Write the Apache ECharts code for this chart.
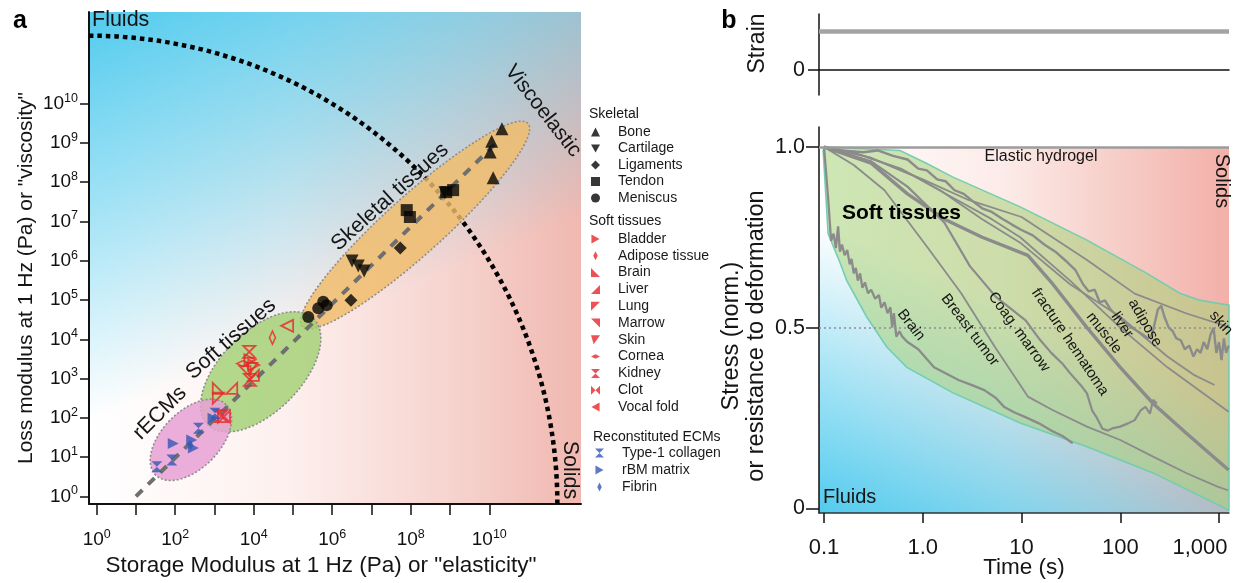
<!DOCTYPE html>
<html><head><meta charset="utf-8">
<script src="https://cdn.jsdelivr.net/npm/echarts@6/dist/echarts.min.js"></script>
<style>html,body{margin:0;padding:0;background:#fff}#c{width:1248px;height:583px}</style>
</head><body><div id="c"></div>
<script>
const FONT = '"Liberation Sans", Arial, Helvetica, sans-serif';
const L10 = Math.log10;

// ================= Panel a data (storage modulus G', loss modulus G'' in Pa) =================
const aTickValues = [1, 1e1, 1e2, 1e3, 1e4, 1e5, 1e6, 1e7, 1e8, 1e9, 1e10];
const aXLabelValues = [1, 1e2, 1e4, 1e6, 1e8, 1e10];
const aYLabelValues = [1, 1e1, 1e2, 1e3, 1e4, 1e5, 1e6, 1e7, 1e8, 1e9, 1e10];
const aAxisMin = 0.637, aAxisMax = 2.17e12;

// skeletal
const bone      = [[2.1e10, 2.3e9], [1.15e10, 1.1e9], [1.05e10, 5.9e8], [1.26e10, 1.3e8]];
const cartilage = [[3.2e6, 9.8e5], [4.6e6, 7.4e5], [6.5e6, 5.5e5], [7.4e8, 5.4e7]];
const ligaments = [[5.4e7, 2.1e6], [3.0e6, 9.8e4]];
const tendon    = [[7.9e7, 1.95e7], [9.5e7, 1.3e7], [1.2e9, 6.3e7], [8.0e8, 5.6e7]];
const meniscus  = [[2.45e5, 3.7e4], [5.9e5, 9.1e4], [7.2e5, 7.4e4], [4.4e5, 6.2e4]];
// soft tissues
const bladder   = [[8.0e3, 3.0e3], [1.0e4, 2.2e3]];
const adipose   = [[3.0e4, 1.1e4]];
const brain     = [[1.25e3, 560]];
const liver     = [[2.75e3, 560], [9.8e3, 1.2e3]];
const lung      = [[1.25e3, 315]];
const marrow    = [[6.0e3, 1.5e3]];
const skin      = [[8.9e3, 1.8e3]];
const cornea    = [[5.4e3, 2.4e3]];
const kidney    = [[7.7e3, 4.8e3], [8.0e3, 920], [1.5e3, 110]];
const clot      = [[1.75e3, 107]];
const vocalFold = [[7.1e4, 2.2e4]];
// reconstituted ECMs
const collagen1 = [[34, 5.7], [82, 8.4], [390, 54], [1030, 130]];
const rbmMatrix = [[89, 22], [263, 27], [290, 17], [920, 98]];
const fibrin    = [[250, 20]];

// trend line G'' = G'/10
const trendLine = [[10, 1], [1.5e10, 1.0e9]];
// fluid/solid boundary radius (decades, around the axis origin)
const boundaryRadiusDecades = 11.93;
// tissue clusters: centre (G', G''), semi-axes in decades, tilt in degrees
const clusterNames   = ['Skeletal tissues', 'Soft tissues', 'rECMs'];
const clusterCenter  = [[1.29e8, 8.1e6], [1.51e4, 1.48e3], [251, 27.5]];
const clusterSemiA   = [3.87, 1.91, 1.27];
const clusterSemiB   = [0.74, 1.02, 0.73];
const clusterTilt    = [42, 45, 45];
const clusterColors  = ['rgba(240,188,105,0.82)', 'rgba(160,208,112,0.8)', 'rgba(232,160,212,0.85)'];

// ================= Panel b data =================
const bTickValues = [0.1, 1, 10, 100, 1000];
const bTickLabels = ['0.1', '1.0', '10', '100', '1,000'];
const bTimeMin = 0.089, bTimeMax = 1262;
const stressTicks = [0, 0.5, 1.0];
const hydrogelStress = 1.0;
const halfStress = 0.5;
const strainTicks = [0];
const strainStep = 1;

const bandUpper = [[0.1,1.0],[0.59,0.99],[1.1,0.954],[2.0,0.917],[9.7,0.834],[46,0.742],[186,0.65],[400,0.595],[630,0.576],[1262,0.562]];
const bandLower = [[0.098,0.99],[0.11,0.76],[0.145,0.68],[0.17,0.63],[0.27,0.53],[0.43,0.447],[0.69,0.39],[2.0,0.32],[9.7,0.236],[46,0.17],[215,0.098],[1262,-0.005]];

const relaxBrain = [[0.1,1.0],[0.11,0.86],[0.118,0.74],[0.125,0.76],[0.132,0.72],[0.139,0.78],[0.145,0.71],[0.152,0.73],[0.162,0.70],[0.172,0.715],[0.182,0.675],[0.19,0.69],[0.2,0.65],[0.21,0.665],[0.22,0.63],[0.232,0.65],[0.245,0.61],[0.26,0.625],[0.279,0.595],[0.3,0.605],[0.33,0.58],[0.36,0.59],[0.38,0.555],[0.41,0.57],[0.44,0.54],[0.47,0.556],[0.49,0.50],[0.51,0.54],[0.54,0.475],[0.58,0.49],[0.62,0.475],[0.7,0.46],[0.9,0.44],[1.3,0.39],[1.8,0.37],[2.3,0.355],[3.2,0.34],[4.2,0.327],[5.5,0.305],[6.7,0.28],[8.5,0.265],[10.8,0.253],[15,0.235],[20,0.215],[26,0.2],[33,0.18]];
const relaxBreastTumor = [[0.1,1.0],[0.2,0.95],[0.41,0.88],[1.13,0.72],[2.45,0.595],[5.36,0.447],[11.6,0.309],[20.6,0.272],[46,0.226],[100,0.189],[215,0.143],[470,0.097],[965,0.06],[1230,0.05]];
const relaxCoagMarrow = [[0.1,1.0],[0.3,0.96],[0.7,0.89],[1.66,0.79],[3,0.67],[5.5,0.585],[11,0.52],[15,0.47],[20,0.43],[26,0.40],[31,0.374],[40,0.34],[46,0.318],[52,0.27],[58,0.25],[66,0.22],[75,0.215],[85,0.222],[100,0.226],[120,0.235],[140,0.244],[160,0.27],[180,0.281],[200,0.262],[215,0.30],[235,0.29]];
const relaxFracture = [[0.1,1.0],[0.3,0.955],[0.7,0.87],[1.66,0.80],[4,0.75],[11.6,0.70],[20.8,0.62],[46,0.50],[100,0.39],[215,0.29],[470,0.207],[1250,0.106]];
const relaxMuscle = [[0.1,1.0],[0.3,0.97],[0.8,0.92],[2,0.86],[5,0.80],[9.7,0.75],[31,0.63],[100,0.50],[300,0.39],[1250,0.267]];
const relaxLiver = [[0.1,1.0],[0.25,0.975],[0.6,0.94],[1.5,0.88],[4,0.80],[9.7,0.735],[31,0.62],[100,0.53],[300,0.42],[550,0.37],[900,0.341]];
const relaxAdipose = [[0.1,1.0],[0.15,0.99],[0.25,0.985],[0.35,0.99],[0.5,0.975],[0.7,0.965],[0.9,0.94],[1.1,0.935],[1.4,0.91],[1.7,0.905],[2.1,0.88],[2.6,0.87],[3.2,0.85],[4,0.83],[5,0.82],[6.5,0.80],[8,0.785],[10,0.77],[13,0.755],[17,0.73],[22,0.71],[28,0.685],[35,0.66],[42,0.62],[48,0.60],[55,0.605],[62,0.57],[70,0.575],[80,0.55],[95,0.53],[110,0.515],[130,0.50],[150,0.49],[170,0.48],[190,0.47],[210,0.48],[240,0.55],[260,0.56],[280,0.53],[310,0.50],[340,0.49],[370,0.47],[410,0.465],[450,0.44],[500,0.45],[550,0.42],[600,0.44],[650,0.43],[700,0.46],[760,0.44],[820,0.48],[880,0.50],[940,0.43],[1000,0.46],[1060,0.41],[1120,0.47],[1180,0.43],[1250,0.45]];
const relaxSkin = [[0.1,1.0],[0.2,0.985],[0.4,0.955],[1,0.91],[2.8,0.855],[10,0.806],[46,0.687],[140,0.594],[470,0.539],[1250,0.502]];

// ================= helpers =================
const lg2 = pts => pts.map(p => [L10(p[0]), L10(p[1])]);
const lgT = pts => pts.map(p => [L10(p[0]), p[1]]);
const RED = '#e8262b', BLUE = '#3658b5', BLACK = '#050505';
const SYM = {
  tri: 'triangle',
  triDown: 'path://M0,0L10,0L5,9Z',
  diamond: 'diamond',
  rect: 'rect',
  circle: 'circle',
  triRight: 'path://M0,0L9,5L0,10Z',
  triLeft: 'path://M9,0L0,5L9,10Z',
  thinDiamond: 'path://M3,0L6,6L3,12L0,6Z',
  cornerBL: 'path://M0,0L0,10L10,10Z',
  cornerBR: 'path://M10,0L10,10L0,10Z',
  cornerTL: 'path://M0,0L10,0L0,10Z',
  cornerTR: 'path://M0,0L10,0L10,10Z',
  skinShape: 'path://M0,0L10,0L3,10Z',
  flatDiamond: 'path://M0,3L6,0L12,3L6,6Z',
  hourglass: 'path://M0,0L10,0L0,10L10,10Z',
  bowtie: 'path://M0,0L10,10L10,0L0,10Z'
};
function scatter(name, data, symbol, color, size, hollow) {
  return {
    type: 'scatter', name, xAxisIndex: 0, yAxisIndex: 0, z: 6,
    data: lg2(data), symbol, symbolSize: size,
    itemStyle: hollow ? {color: 'rgba(0,0,0,0)', borderColor: color, borderWidth: 1.8} : {color},
    emphasis: {disabled: true}
  };
}
function relax(name, data, width) {
  return {
    type: 'line', name, xAxisIndex: 2, yAxisIndex: 2, z: 4,
    data: lgT(data), showSymbol: false, symbol: 'none',
    lineStyle: {color: '#8b8b8b', width: width || 1.8},
    emphasis: {disabled: true}
  };
}
const rich = {
  b: {fontSize: 19, lineHeight: 24, fontFamily: FONT, color: '#111'},
  s: {fontSize: 12.5, lineHeight: 13, verticalAlign: 'top', fontFamily: FONT, color: '#111'}
};
const expLabel = v => '{b|10}{s|' + Math.round(v) + '}';

const skeletalNames = ['Bone', 'Cartilage', 'Ligaments', 'Tendon', 'Meniscus'];
const softNames = ['Bladder', 'Adipose tissue', 'Brain', 'Liver', 'Lung', 'Marrow', 'Skin', 'Cornea', 'Kidney', 'Clot', 'Vocal fold'];
const ecmNames = ['Type-1 collagen', 'rBM matrix', 'Fibrin'];

const markerSeries = [
  scatter('Bone', bone, SYM.tri, BLACK, 13),
  scatter('Cartilage', cartilage, SYM.triDown, BLACK, 13),
  scatter('Ligaments', ligaments, SYM.diamond, BLACK, 13),
  scatter('Tendon', tendon, SYM.rect, BLACK, 12),
  scatter('Meniscus', meniscus, SYM.circle, BLACK, 12),
  scatter('Bladder', bladder, SYM.triRight, RED, 11, true),
  scatter('Adipose tissue', adipose, SYM.thinDiamond, RED, [6, 13], true),
  scatter('Brain', brain, SYM.cornerBL, RED, 11, true),
  scatter('Liver', liver, SYM.cornerBR, RED, 11, true),
  scatter('Lung', lung, SYM.cornerTL, RED, 11, true),
  scatter('Marrow', marrow, SYM.cornerTR, RED, 11, true),
  scatter('Skin', skin, SYM.skinShape, RED, 11, true),
  scatter('Cornea', cornea, SYM.flatDiamond, RED, [13, 6], true),
  scatter('Kidney', kidney, SYM.hourglass, RED, 12, true),
  scatter('Clot', clot, SYM.bowtie, RED, 12, true),
  scatter('Vocal fold', vocalFold, SYM.triLeft, RED, 12, true),
  scatter('Type-1 collagen', collagen1, SYM.hourglass, BLUE, 11),
  scatter('rBM matrix', rbmMatrix, SYM.triRight, BLUE, 11),
  scatter('Fibrin', fibrin, SYM.thinDiamond, BLUE, [5, 10])
];

function legendCfg(names, left, top, gap, color) {
  return {
    data: names.map(n => color ? {name: n, itemStyle: {color: color, borderColor: color, borderWidth: 0}} : {name: n}),
    orient: 'vertical', left, top, padding: 0, itemGap: gap,
    itemWidth: 9, itemHeight: 9, selectedMode: false,
    textStyle: {fontSize: 14, lineHeight: 15, fontFamily: FONT, color: '#1a1a1a', padding: [0, 0, 0, 13]}
  };
}

function txt(text, x, y, o) {
  o = o || {};
  return {
    type: 'text', x, y, z: 100, rotation: (o.rot || 0) * Math.PI / 180, silent: true,
    style: {
      text, fontSize: o.size || 21.5, fontFamily: FONT, fontWeight: o.bold ? 'bold' : 'normal',
      fill: o.color || '#151515', align: o.align || 'center', verticalAlign: 'middle'
    }
  };
}

const aMinExp = L10(aAxisMin), aMaxExp = L10(aAxisMax);
const bMinExp = L10(bTimeMin), bMaxExp = L10(bTimeMax);

const option = {
  animation: false,
  textStyle: {fontFamily: FONT},
  grid: [
    {left: 89, top: 12, width: 492, height: 492, containLabel: false, outerBoundsMode: 'none'},
    {left: 819, top: 14, width: 410, height: 81, containLabel: false, outerBoundsMode: 'none'},
    {left: 819, top: 127, width: 410, height: 386, containLabel: false, outerBoundsMode: 'none'}
  ],
  xAxis: [
    {
      type: 'value', gridIndex: 0, min: aMinExp, max: aMaxExp,
      axisLine: {show: true, onZero: false, lineStyle: {color: '#111', width: 2}},
      axisTick: {show: true, customValues: aTickValues.map(L10), length: 11, lineStyle: {color: '#111', width: 1.5}},
      axisLabel: {customValues: aXLabelValues.map(L10), formatter: expLabel, rich, margin: 24},
      splitLine: {show: false},
      name: 'Storage Modulus at 1 Hz (Pa) or "elasticity"', nameLocation: 'middle', nameGap: 49,
      nameTextStyle: {fontSize: 22.5, color: '#151515', fontFamily: FONT, padding: [0, 28, 0, 0]}
    },
    {
      type: 'value', gridIndex: 1, min: bMinExp, max: bMaxExp,
      axisLine: {show: true, onZero: true, lineStyle: {color: '#111', width: 1.5}},
      axisTick: {show: false}, axisLabel: {show: false}, splitLine: {show: false}
    },
    {
      type: 'value', gridIndex: 2, min: bMinExp, max: bMaxExp,
      axisLine: {show: true, onZero: false, lineStyle: {color: '#333', width: 1.5}},
      axisTick: {show: true, customValues: bTickValues.map(L10), length: 10, lineStyle: {color: '#111', width: 1.5}},
      axisLabel: {
        customValues: bTickValues.map(L10), margin: 24, fontSize: 22, color: '#151515', fontFamily: FONT,
        rich: {last: {fontSize: 22, color: '#151515', fontFamily: FONT, padding: [0, 38, 0, 0]}},
        formatter: v => {
          const i = bTickValues.findIndex(t => Math.abs(L10(t) - v) < 1e-6);
          if (i < 0) return '';
          return i === bTickValues.length - 1 ? '{last|' + bTickLabels[i] + '}' : bTickLabels[i];
        }
      },
      splitLine: {show: false},
      name: 'Time (s)', nameLocation: 'middle', nameGap: 43, nameMoveOverlap: false,
      nameTextStyle: {fontSize: 22.5, color: '#151515', fontFamily: FONT}
    }
  ],
  yAxis: [
    {
      type: 'value', gridIndex: 0, min: aMinExp, max: aMaxExp,
      axisLine: {show: true, onZero: false, lineStyle: {color: '#111', width: 2}},
      axisTick: {show: true, customValues: aTickValues.map(L10), length: 9, lineStyle: {color: '#111', width: 1.5}},
      axisLabel: {customValues: aYLabelValues.map(L10), formatter: expLabel, rich, margin: 11},
      splitLine: {show: false},
      name: 'Loss modulus at 1 Hz (Pa) or "viscosity"', nameLocation: 'middle', nameGap: 52,
      nameTextStyle: {fontSize: 21, color: '#151515', fontFamily: FONT, padding: [0, 40, 0, 0]}
    },
    {
      type: 'value', gridIndex: 1, min: -0.64, max: 1.44,
      axisLine: {show: true, onZero: false, lineStyle: {color: '#111', width: 1.5}},
      axisTick: {show: true, customValues: strainTicks, length: 11, lineStyle: {color: '#111', width: 1.5}},
      axisLabel: {customValues: strainTicks, margin: 14, fontSize: 21.5, color: '#151515', fontFamily: FONT, formatter: v => String(v)},
      splitLine: {show: false},
      name: 'Strain', nameLocation: 'middle', nameGap: 50,
      nameTextStyle: {fontSize: 23, color: '#151515', fontFamily: FONT, padding: [0, 0, 0, 22]}
    },
    {
      type: 'value', gridIndex: 2, min: -0.013, max: 1.055,
      axisLine: {show: true, onZero: false, lineStyle: {color: '#111', width: 1.5}},
      axisTick: {show: true, customValues: stressTicks, length: 13, lineStyle: {color: '#111', width: 1.5}},
      axisLabel: {customValues: stressTicks, margin: 14, fontSize: 21.5, color: '#151515', fontFamily: FONT, formatter: v => v === 0 ? '0' : v.toFixed(1)},
      splitLine: {show: false},
      name: 'Stress (norm.)\nor resistance to deformation', nameLocation: 'middle', nameGap: 50,
      nameTextStyle: {fontSize: 23.5, lineHeight: 25, color: '#151515', fontFamily: FONT, padding: [0, 32, 0, 0]}
    }
  ],
  legend: [
    legendCfg(skeletalNames, 591, 124.5, 1.5),
    legendCfg(softNames, 591, 231.5, 1.8, RED),
    legendCfg(ecmNames, 595, 445.5, 2)
  ],
  graphic: [
    txt('a', 20, 21, {size: 25, bold: true, color: '#000'}),
    txt('Fluids', 92, 20, {align: 'left'}),
    txt('Solids', 570, 470, {rot: -90}),
    txt('Viscoelastic', 543, 111, {rot: -52, size: 21}),
    txt('Skeletal tissues', 390, 197, {rot: 42}),
    txt('Soft tissues', 231, 339, {rot: 41}),
    txt('rECMs', 160, 413, {rot: 45}),
    txt('Skeletal', 589, 114, {size: 14, align: 'left'}),
    txt('Soft tissues', 589, 221, {size: 14, align: 'left'}),
    txt('Reconstituted ECMs', 593, 437, {size: 14, align: 'left'}),
    txt('b', 729, 21, {size: 25, bold: true, color: '#000'}),
    txt('Elastic hydrogel', 1041, 157, {size: 16}),
    txt('Solids', 1222, 181, {rot: -90, size: 20}),
    txt('Soft tissues', 842, 213, {size: 21, bold: true, align: 'left', color: '#000'}),
    txt('Fluids', 823, 497, {align: 'left', size: 20}),
    txt('Brain', 911, 325, {size: 15, rot: -52}),
    txt('Breast tumor', 970, 330, {size: 15, rot: -53}),
    txt('Coag. marrow', 1019, 332, {size: 15, rot: -54}),
    txt('fracture hematoma', 1070, 342, {size: 15, rot: -56}),
    txt('muscle', 1104, 333, {size: 15, rot: -52}),
    txt('liver', 1122, 325, {size: 15, rot: -56}),
    txt('adipose', 1145, 323, {size: 15, rot: -60}),
    txt('skin', 1221, 323, {size: 15, rot: -48})
  ],
  series: [
    // panel a background
    {
      type: 'custom', name: 'bgA', xAxisIndex: 0, yAxisIndex: 0, z: 0, silent: true,
      data: [[aMinExp, aMinExp]],
      renderItem: (params) => {
        const cs = params.coordSys;
        const shape = {x: cs.x, y: cs.y, width: cs.width, height: cs.height};
        return {type: 'group', children: [
          {type: 'rect', shape, style: {fill: {type: 'linear', x: 0, y: 0, x2: 1, y2: 0, colorStops: [
            {offset: 0, color: '#ffffff'}, {offset: 0.4, color: '#fdf0ee'}, {offset: 0.75, color: '#f6d2cd'}, {offset: 1, color: '#f0b8b0'}]}}},
          {type: 'rect', shape, style: {fill: {type: 'linear', x: 0, y: 0, x2: 0.296, y2: 0.71, colorStops: [
            {offset: 0, color: 'rgba(82,203,238,1)'}, {offset: 0.5, color: 'rgba(82,203,238,0.52)'}, {offset: 1, color: 'rgba(82,203,238,0)'}]}}}
        ]};
      }
    },
    // fluid-solid boundary
    {
      type: 'custom', name: 'boundary', xAxisIndex: 0, yAxisIndex: 0, z: 1, silent: true,
      data: [[aMinExp, aMinExp, boundaryRadiusDecades]],
      renderItem: (params, api) => {
        const c = api.coord([api.value(0), api.value(1)]);
        const r = api.size([api.value(2), 0])[0];
        return {type: 'arc', shape: {cx: c[0], cy: c[1], r, startAngle: -Math.PI / 2, endAngle: 0, clockwise: true},
          style: {stroke: '#000', lineWidth: 4.5, lineDash: [4.5, 4], fill: null}};
      }
    },
    // tissue clusters
    {
      type: 'custom', name: 'clusters', xAxisIndex: 0, yAxisIndex: 0, z: 2, silent: true,
      data: clusterNames.map((n, i) => [L10(clusterCenter[i][0]), L10(clusterCenter[i][1]), clusterSemiA[i], clusterSemiB[i], clusterTilt[i], i]),
      renderItem: (params, api) => {
        const cx = api.value(0), cy = api.value(1), a = api.value(2), b = api.value(3);
        const th = api.value(4) * Math.PI / 180, idx = api.value(5);
        const pts = [];
        for (let k = 0; k < 96; k++) {
          const f = k / 96 * Math.PI * 2;
          pts.push(api.coord([cx + a * Math.cos(f) * Math.cos(th) - b * Math.sin(f) * Math.sin(th),
                              cy + a * Math.cos(f) * Math.sin(th) + b * Math.sin(f) * Math.cos(th)]));
        }
        return {type: 'polygon', shape: {points: pts},
          style: {fill: clusterColors[idx], stroke: '#8d8d8d', lineWidth: 1.6, lineDash: [2, 2]}};
      }
    },
    // trend line
    {
      type: 'line', name: 'trend', xAxisIndex: 0, yAxisIndex: 0, z: 3, silent: true,
      data: lg2(trendLine), showSymbol: false, symbol: 'none',
      lineStyle: {color: '#6f6f6f', width: 4, type: [9, 8]}
    },
    ...markerSeries,
    // panel b strain step
    {
      type: 'line', name: 'strain', xAxisIndex: 1, yAxisIndex: 1, data: [], z: 3,
      markLine: {symbol: 'none', silent: true, label: {show: false}, animation: false,
        data: [{yAxis: strainStep}], lineStyle: {color: '#a3a3a3', width: 4.5, type: 'solid'}}
    },
    // panel b background
    {
      type: 'custom', name: 'bgB', xAxisIndex: 2, yAxisIndex: 2, z: 0, silent: true,
      data: [[bMinExp, hydrogelStress]],
      renderItem: (params, api) => {
        const cs = params.coordSys;
        const top = api.coord([api.value(0), api.value(1)])[1];
        const shape = {x: cs.x, y: top, width: cs.width, height: cs.y + cs.height - top};
        return {type: 'group', children: [
          {type: 'rect', shape, style: {fill: {type: 'linear', x: 0, y: 0, x2: 1, y2: 0, colorStops: [
            {offset: 0, color: '#ffffff'}, {offset: 0.45, color: '#fcebe8'}, {offset: 1, color: '#f2b0a8'}]}}},
          {type: 'rect', shape, style: {fill: {type: 'linear', x: 0, y: 1, x2: 0.258, y2: 0.33, colorStops: [
            {offset: 0, color: 'rgba(82,203,238,1)'}, {offset: 0.5, color: 'rgba(82,203,238,0.5)'}, {offset: 1, color: 'rgba(82,203,238,0)'}]}}}
        ]};
      }
    },
    // soft tissue band
    {
      type: 'custom', name: 'band', xAxisIndex: 2, yAxisIndex: 2, z: 1, silent: true,
      data: [[0, 0]],
      renderItem: (params, api) => {
        const pts = lgT(bandUpper).concat(lgT(bandLower).reverse()).map(p => api.coord(p));
        return {type: 'polygon', shape: {points: pts},
          style: {fill: 'rgba(165,210,120,0.55)', stroke: 'rgba(110,205,175,0.95)', lineWidth: 1.6}};
      }
    },
    Object.assign(relax('brain relaxation', relaxBrain, 2.3), {
      markLine: {symbol: 'none', silent: true, label: {show: false}, animation: false,
        data: [
          {yAxis: hydrogelStress, lineStyle: {color: '#9c9c9c', width: 2.5, type: 'solid'}},
          {yAxis: halfStress, lineStyle: {color: '#8e8e8e', width: 1.5, type: [2, 3]}}
        ]}
    }),
    relax('breast tumor relaxation', relaxBreastTumor, 1.8),
    relax('coag. marrow relaxation', relaxCoagMarrow, 2.2),
    relax('fracture hematoma relaxation', relaxFracture, 3.4),
    relax('muscle relaxation', relaxMuscle, 1.8),
    relax('liver relaxation', relaxLiver, 1.8),
    relax('adipose relaxation', relaxAdipose, 2.4),
    relax('skin relaxation', relaxSkin, 1.8)
  ]
};

const chart = echarts.init(document.getElementById('c'), null, {renderer: 'canvas', width: 1248, height: 583});
chart.setOption(option);
</script>
</body></html>
